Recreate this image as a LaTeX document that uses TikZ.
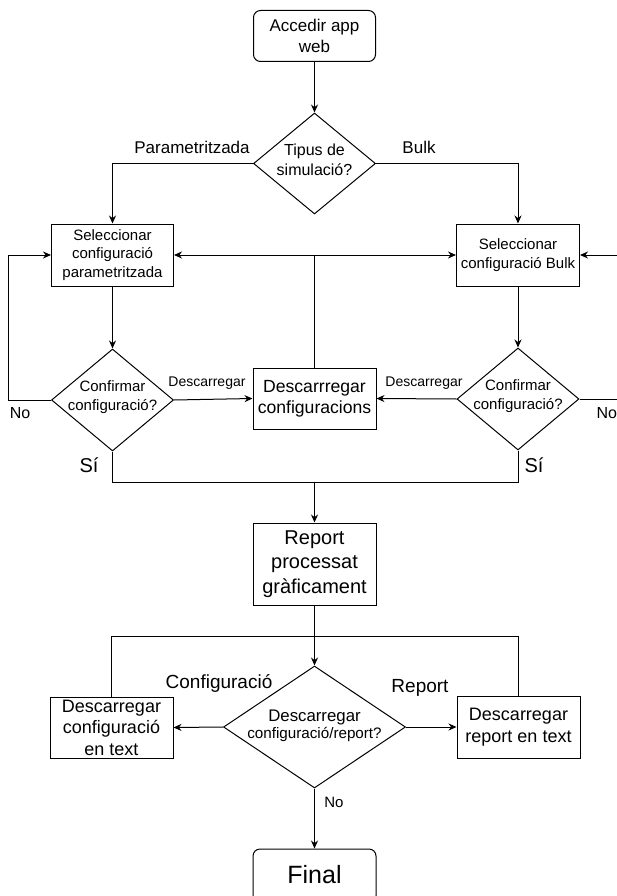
\documentclass[tikz,border=0pt]{standalone}
\usepackage{fontspec}
\setmainfont{Liberation Sans}
\usetikzlibrary{shapes.geometric,arrows.meta}
\newcommand{\fsz}[2]{\fontsize{#1}{#2}\selectfont}
\begin{document}
\begin{tikzpicture}[x=1pt,y=-1pt, line width=1pt,
 box/.style={draw, rectangle, inner sep=0pt, align=center},
 rbox/.style={box, rounded corners=7pt},
 dia/.style={draw, diamond, inner sep=0pt},
 txt/.style={align=center, inner sep=0pt},
 arr/.style={-{Stealth[length=8pt,width=7pt]}},
 lbl/.style={inner sep=0pt, anchor=center}]
\useasboundingbox (0,0) rectangle (617,896);
\clip (0,0) rectangle (617,896);

% nodes
\node[rbox, minimum width=122pt, minimum height=51pt, font=\fsz{17}{20.4}] (acc) at (314.5,36) {Accedir app\\web};
\node[dia, minimum width=122pt, minimum height=101pt] (tip) at (314.5,163.5) {};
\node[txt, font=\fsz{16}{19.5}] (tipt) at (314.5,160) {Tipus de\\simulació?};

\node[box, minimum width=122pt, minimum height=62pt, font=\fsz{15}{18.5}] (selP) at (112.5,255) {Seleccionar\\configuració\\parametritzada};
\node[box, minimum width=123pt, minimum height=62pt, font=\fsz{15}{18.5}] (selB) at (518,255) {Seleccionar\\configuració Bulk};

\node[dia, minimum width=122pt, minimum height=102pt] (confP) at (112.5,400) {};
\node[txt, font=\fsz{15}{18.5}] (confPt) at (112.5,397) {Confirmar\\configuració?};
\node[dia, minimum width=122pt, minimum height=102pt] (confB) at (518,399) {};
\node[txt, font=\fsz{15}{18.5}] (confBt) at (518,396) {Confirmar\\configuració?};

\node[box, minimum width=123pt, minimum height=61pt, font=\fsz{17.6}{21}] (desc) at (314.5,398.5) {Descarrregar\\configuracions};

\node[box, minimum width=123pt, minimum height=82pt, font=\fsz{20}{24.5}] (rep) at (314.5,564) {Report\\processat\\gràficament};

\node[dia, minimum width=182pt, minimum height=122pt] (dl) at (314.5,727) {};
\node[txt] (dlt) at (314.5,726) {{\fsz{16.8}{20}Descarregar}\\[1pt]{\fsz{15.2}{18}configuració/report?}};

\node[box, minimum width=123pt, minimum height=61pt, font=\fsz{18}{21.5}] (dcl) at (111.5,727.5) {Descarregar\\configuració\\en text};
\node[box, minimum width=123pt, minimum height=62pt, font=\fsz{18}{21.5}] (dre) at (518.5,727) {Descarregar\\report en text};

\node[rbox, minimum width=123pt, minimum height=54pt, font=\fsz{25}{30}] (fin) at (314.5,876) {\raisebox{3pt}{Final}};

% helper coordinates
\coordinate (loopL) at (8,400);
\coordinate (loopR) at (640,399);
\coordinate (join) at (314.5,482);
\coordinate (ret) at (314.5,636);

% connectors
\draw[arr] (acc) -- (tip);
\draw[arr] (tip.west) -| (selP.north);
\draw[arr] (tip.east) -| (selB.north);
\draw[arr] (selP) -- (confP);
\draw[arr] (selB) -- (confB);
\draw[arr] (confP.west) -- (loopL) |- (selP.west);
\draw[arr] (confB.east) -- (loopR) |- (selB.east);
\draw[arr] (confP.east) -- (desc.west);
\draw[arr] (confB.west) -- (desc.east);
\draw[arr] (desc.north) |- (selP.east);
\draw[arr] (desc.north) |- (selB.west);
\draw (confP.south) |- (join);
\draw (confB.south) |- (join);
\draw[arr] (join) -- (rep.north);
\draw[arr] (rep) -- (dl);
\draw (dcl.north) |- (ret);
\draw (dre.north) |- (ret);
\draw[arr] (dl.west) -- (dcl.east);
\draw[arr] (dl.east) -- (dre.west);
\draw[arr] (dl.south) -- (fin.north);

% labels
\node[lbl, font=\fsz{17}{20}] (lPar) at (192,147) {Parametritzada};
\node[lbl, font=\fsz{17}{20}] (lBulk) at (419,147) {Bulk};
\node[lbl, font=\fsz{14}{17}] (lD1) at (207,383) {Descarregar};
\node[lbl, font=\fsz{14}{17}] (lD2) at (424,383) {Descarregar};
\node[lbl, font=\fsz{16}{19}] (lNo1) at (20,413) {No};
\node[lbl, font=\fsz{16}{19}, anchor=west] (lNo2) at (596,413) {No};
\node[lbl, font=\fsz{20}{24}] (lSi1) at (89,465) {Sí};
\node[lbl, font=\fsz{20}{24}] (lSi2) at (534,465) {Sí};
\node[lbl, font=\fsz{19}{23}] (lConf) at (219,683) {Configuració};
\node[lbl, font=\fsz{19}{23}] (lRep) at (420,688) {Report};
\node[lbl, font=\fsz{15}{18}] (lNo3) at (334,802) {No};
\end{tikzpicture}
\end{document}
